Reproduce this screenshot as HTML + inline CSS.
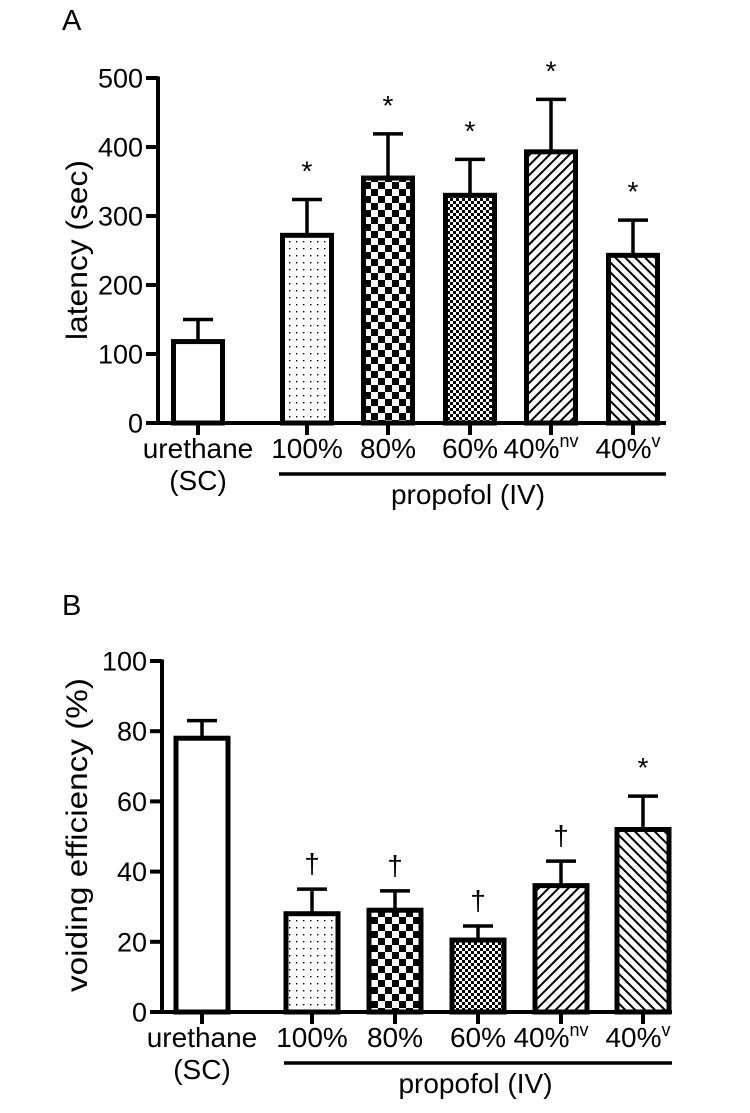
<!DOCTYPE html>
<html><head><meta charset="utf-8"><style>
html,body{margin:0;padding:0;background:#fff}
svg text{font-family:"Liberation Sans",Arial,sans-serif;fill:#000}
</style></head><body>
<svg id="chart" width="750" height="1108" viewBox="0 0 750 1108" xmlns="http://www.w3.org/2000/svg">
<defs>
<pattern id="p-dots" width="7" height="7" patternUnits="userSpaceOnUse"><rect width="7" height="7" fill="#fff"/><rect x="2" y="3" width="1.4" height="1.4" fill="#000"/></pattern>
<pattern id="p-check" width="14" height="14" patternUnits="userSpaceOnUse"><rect width="14" height="14" fill="#fff"/><rect width="7" height="7" fill="#000"/><rect x="7" y="7" width="7" height="7" fill="#000"/></pattern>
<pattern id="p-fine" width="6" height="6" patternUnits="userSpaceOnUse"><rect width="6" height="6" fill="#fff"/><rect width="3" height="3" fill="#000"/><rect x="3" y="3" width="3" height="3" fill="#000"/></pattern>
<pattern id="p-fwd" width="7" height="7" patternUnits="userSpaceOnUse" patternTransform="rotate(45)"><rect width="7" height="7" fill="#fff"/><rect width="2" height="7" fill="#000"/></pattern>
<pattern id="p-back" width="7" height="7" patternUnits="userSpaceOnUse" patternTransform="rotate(-45)"><rect width="7" height="7" fill="#fff"/><rect width="2" height="7" fill="#000"/></pattern>
</defs>
<g id="A"></g><g id="B"></g>
</svg>
<script>
const categories=["urethane","100%","80%","60%","40%nv","40%v"];
const fills=["#fff","url(#p-dots)","url(#p-check)","url(#p-fine)","url(#p-fwd)","url(#p-back)"];
const latencyValues=[118,272,355,330,393,243];
const latencyErrTop=[150,324,419,382,469,294];
const latencyMarks=["","*","*","*","*","*"];
const latencyTicks=[0,100,200,300,400,500];
const voidingValues=[78,28,29,20.5,36,52];
const voidingErrTop=[83,35,34.5,24.5,43,61.5];
const voidingMarks=["","†","†","†","†","*"];
const voidingTicks=[0,20,40,60,80,100];

const NS="http://www.w3.org/2000/svg";
function mk(parent,tag,attrs,txt){const e=document.createElementNS(NS,tag);for(const k in attrs)e.setAttribute(k,attrs[k]);if(txt!==undefined)e.textContent=txt;parent.appendChild(e);return e;}

function panel(o){
  const g=document.getElementById(o.gid);
  const {y0,yTop,maxV,AX,centers,bw}=o;
  const ys=v=>y0-(v/maxV)*(y0-yTop);
  let t=mk(g,'text',{x:62,y:o.letterY,'font-size':29},o.letter);
  
  
  o.values.forEach((v,i)=>{
    const cx=centers[i];
    const e=mk(g,'line',{x1:cx,x2:cx,y1:ys(v),y2:ys(o.errs[i]),stroke:'#000','stroke-width':3.5});
    
    
    const c=mk(g,'line',{x1:cx-15,x2:cx+15,y1:ys(o.errs[i]),y2:ys(o.errs[i]),stroke:'#000','stroke-width':3.5});
    
    
    const r=mk(g,'rect',{x:cx-bw/2,y:ys(v),width:bw,height:y0-ys(v),fill:fills[i],stroke:'#000','stroke-width':5});
    
    
    if(o.marks[i]){
      const star=o.marks[i]==='*';
      const m=mk(g,'text',{x:cx,y:ys(o.errs[i])-(star?19:16),'font-size':28,'text-anchor':'middle'},o.marks[i]);
      
      
    }
  });
  const ya=mk(g,'line',{x1:AX,x2:AX,y1:yTop-1.5,y2:y0+1.5,stroke:'#000','stroke-width':4});
  
  
  const xa=mk(g,'line',{x1:AX,x2:o.xEnd,y1:y0,y2:y0,stroke:'#000','stroke-width':4});
  
  
  o.ticks.forEach(tv=>{
    const l=mk(g,'line',{x1:AX-12,x2:AX,y1:ys(tv),y2:ys(tv),stroke:'#000','stroke-width':4});
    
    
    const tt=mk(g,'text',{x:AX-15,y:ys(tv)+9.5,'font-size':27,'text-anchor':'end'},tv);
    
    
  });
  centers.forEach((cx,i)=>{
    const l=mk(g,'line',{x1:cx,x2:cx,y1:y0,y2:y0+12,stroke:'#000','stroke-width':4});
    
    
  });
  const ly=y0+35;
  const labs=[["urethane",""],["100%",""],["80%",""],["60%",""],["40%","nv"],["40%","v"]];
  labs.forEach((L,i)=>{
    const tx=mk(g,'text',{x:centers[i]-(L[1]==='nv'?10:L[1]==='v'?5:0),y:ly,'font-size':28,'text-anchor':'middle'});
    
    
    tx.appendChild(document.createTextNode(L[0]));
    if(L[1]){mk(tx,'tspan',{'font-size':18,dy:-11},L[1]);}
  });
  const sc=mk(g,'text',{x:centers[0],y:ly+32,'font-size':28,'text-anchor':'middle'},'(SC)');
  
  
  const pl=mk(g,'line',{x1:centers[1]-28,x2:o.xEnd,y1:y0+51,y2:y0+51,stroke:'#000','stroke-width':3.5});
  
  
  const pt=mk(g,'text',{x:(centers[1]+centers[5])/2-2,y:y0+81,'font-size':28,'text-anchor':'middle'},'propofol (IV)');
  
  
  const yl=mk(g,'text',{x:0,y:0,'font-size':30,'text-anchor':'middle',textLength:o.titleLen,lengthAdjust:'spacingAndGlyphs',transform:`translate(87,${o.labelY}) rotate(-90)`},o.ylabel);
  
  
}
panel({gid:'A',letter:'A',letterY:30,y0:423,yTop:78,maxV:500,AX:158,xEnd:666,bw:49,
  centers:[198,307,388,470,551,633],values:latencyValues,errs:latencyErrTop,marks:latencyMarks,ticks:latencyTicks,
  ylabel:'latency (sec)',labelY:250,titleLen:180});
panel({gid:'B',letter:'B',letterY:615,y0:1012,yTop:661,maxV:100,AX:162,xEnd:672,bw:52,
  centers:[202,312,395,478,561,643],values:voidingValues,errs:voidingErrTop,marks:voidingMarks,ticks:voidingTicks,
  ylabel:'voiding efficiency (%)',labelY:835,titleLen:314});
</script>
</body></html>
